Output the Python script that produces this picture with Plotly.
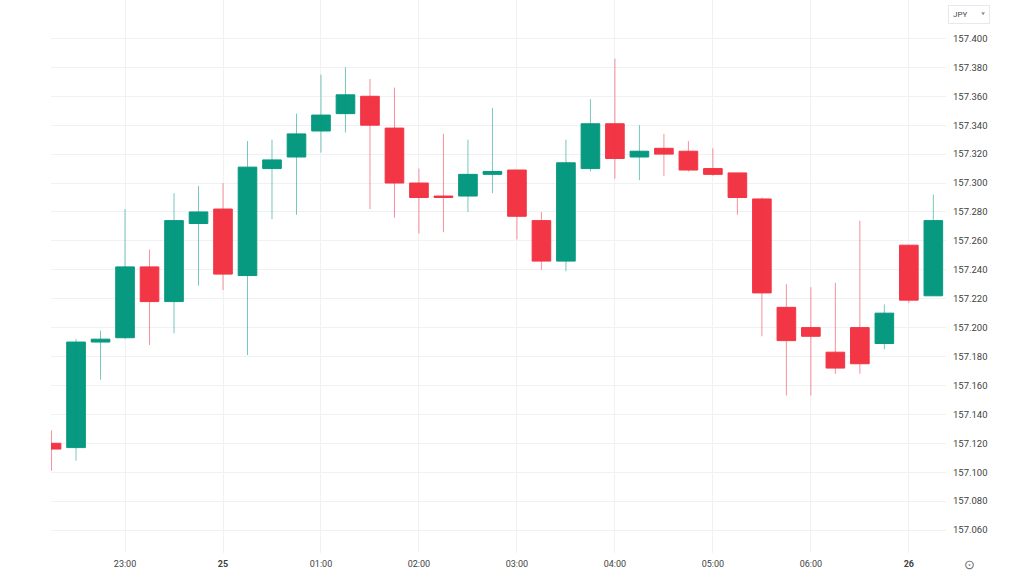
import plotly.graph_objects as go
import pandas as pd

# ---- data (15-minute candles) ----
times = pd.date_range("2024-06-24 22:15", periods=37, freq="15min")
opens = [157.120, 157.117, 157.190, 157.193, 157.242, 157.218, 157.272, 157.282, 157.236, 157.310,
         157.318, 157.336, 157.348, 157.360, 157.338, 157.300, 157.291, 157.291, 157.306, 157.309,
         157.274, 157.246, 157.310, 157.341, 157.318, 157.324, 157.322, 157.310, 157.307, 157.289,
         157.214, 157.200, 157.183, 157.200, 157.189, 157.257, 157.222]
highs = [157.129, 157.192, 157.198, 157.282, 157.254, 157.293, 157.298, 157.300, 157.329, 157.330,
         157.348, 157.375, 157.380, 157.372, 157.366, 157.310, 157.334, 157.330, 157.352, 157.309,
         157.280, 157.330, 157.358, 157.386, 157.340, 157.334, 157.329, 157.324, 157.307, 157.290,
         157.230, 157.228, 157.231, 157.274, 157.216, 157.257, 157.292]
lows = [157.101, 157.108, 157.164, 157.192, 157.188, 157.196, 157.229, 157.226, 157.181, 157.275,
        157.278, 157.321, 157.335, 157.282, 157.276, 157.265, 157.266, 157.280, 157.293, 157.261,
        157.240, 157.239, 157.308, 157.303, 157.302, 157.305, 157.308, 157.305, 157.278, 157.194,
        157.153, 157.153, 157.168, 157.168, 157.185, 157.217, 157.222]
closes = [157.116, 157.190, 157.192, 157.242, 157.218, 157.274, 157.280, 157.237, 157.311, 157.316,
          157.334, 157.347, 157.361, 157.340, 157.300, 157.290, 157.290, 157.306, 157.308, 157.277,
          157.246, 157.314, 157.341, 157.317, 157.322, 157.320, 157.309, 157.306, 157.290, 157.224,
          157.191, 157.194, 157.172, 157.175, 157.210, 157.219, 157.274]

tick_times = pd.date_range("2024-06-24 23:00", periods=9, freq="1h")
tick_text = ["23:00", "<b>25</b>", "01:00", "02:00", "03:00", "04:00", "05:00", "06:00", "<b>26</b>"]
price_ticks = [round(157.06 + 0.02 * i, 2) for i in range(18)]

GREEN = "#089981"
RED = "#F23645"
GREEN_WICK = "rgba(8,153,129,0.55)"
RED_WICK = "rgba(242,54,69,0.55)"

fig = go.Figure()

# wicks
for up, col in ((True, GREEN_WICK), (False, RED_WICK)):
    wx, wy = [], []
    for t, o, h, l, c in zip(times, opens, highs, lows, closes):
        if (c >= o) == up:
            wx += [t, t, None]
            wy += [l, h, None]
    fig.add_trace(go.Scatter(x=wx, y=wy, mode="lines", line=dict(color=col, width=1),
                             hoverinfo="skip", showlegend=False))

# bodies
body_hi = [max(o, c) for o, c in zip(opens, closes)]
body_lo = [min(o, c) for o, c in zip(opens, closes)]
fig.add_trace(go.Candlestick(
    x=times, open=opens, high=body_hi, low=body_lo, close=closes,
    increasing=dict(line=dict(color=GREEN, width=1), fillcolor=GREEN),
    decreasing=dict(line=dict(color=RED, width=1), fillcolor=RED),
    whiskerwidth=0, showlegend=False))

fig.update_layout(
    width=1024, height=576,
    margin=dict(l=51, r=78, t=0, b=23),
    paper_bgcolor="white", plot_bgcolor="white",
    boxgap=0.24, boxgroupgap=0,
    font=dict(family="Roboto, Inter, sans-serif", size=9, color="#3f3f3f"),
    xaxis=dict(
        type="date",
        range=["2024-06-24 22:14:40", "2024-06-25 07:22:45"],
        tickvals=list(tick_times), ticktext=tick_text,
        showgrid=True, gridcolor="#f0f1f4", gridwidth=1,
        zeroline=False, showline=False, ticks="",
        ticklabelstandoff=4,
        rangeslider=dict(visible=False),
        tickfont=dict(size=9, color="#3f3f3f"),
    ),
    yaxis=dict(
        side="right",
        range=[157.0441, 157.4266],
        tickvals=price_ticks, tickformat=".3f",
        showgrid=True, gridcolor="#f0f1f4", gridwidth=1,
        zeroline=False, showline=False, ticks="",
        ticklabelstandoff=6,
        tickfont=dict(size=9.5, color="#3f3f3f"),
    ),
    annotations=[
        dict(xref="paper", yref="paper", x=1.0, y=1.0, xanchor="left", yanchor="top",
             xshift=2, yshift=-5, text="JPY&nbsp;&nbsp;&nbsp;&nbsp;&nbsp;&nbsp;&nbsp;˅", showarrow=False,
             font=dict(size=8, color="#4a4a4a"), bordercolor="#e6e8ee", borderwidth=1,
             borderpad=4, bgcolor="white", align="left"),
        dict(xref="paper", yref="paper", x=1.0, y=0.0, xanchor="center", yanchor="top",
             xshift=23, yshift=-2, text="⊙", showarrow=False,
             font=dict(size=13, color="#6a6a6a")),
    ],
)

fig.write_html("out.html")
